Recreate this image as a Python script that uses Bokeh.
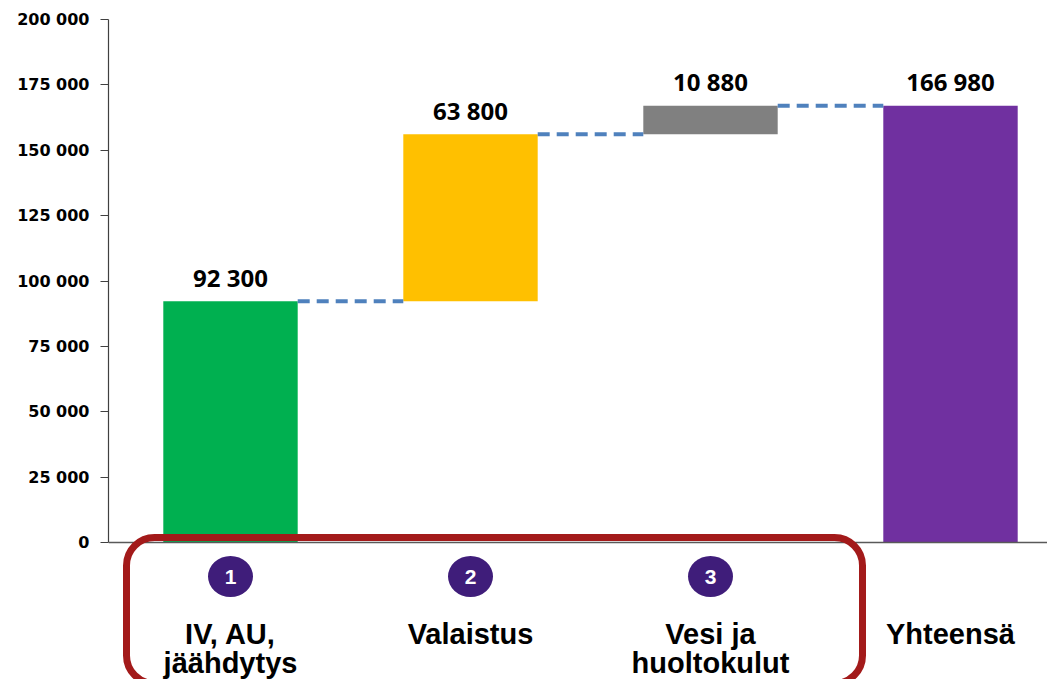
from bokeh.plotting import figure
from bokeh.models import Range1d, FixedTicker, BoxAnnotation, Span, ColumnDataSource
from bokeh.core.properties import value
from bokeh.embed import file_html
from bokeh.resources import INLINE

# ---- data ----
categories = ["IV, AU,\njäähdytys", "Valaistus", "Vesi ja\nhuoltokulut", "Yhteensä"]
step_values = [92300, 63800, 10880]
total_value = 166980
bar_colors = ["#00B050", "#FFC000", "#808080", "#7030A0"]
step_numbers = ["1", "2", "3"]
y_ticks = [0, 25000, 50000, 75000, 100000, 125000, 150000, 175000, 200000]
y_tick_labels = ["0", "25 000", "50 000", "75 000", "100 000", "125 000",
                 "150 000", "175 000", "200 000"]

# ---- layout helpers ----
W, H = 1047, 679
LEFT, TOP = 108, 19
FRAME_W = W - LEFT
FRAME_H = H - TOP
Y_MAX = 200000
ZERO_PX = 523            # pixels from top of frame to y = 0
PX_PER_X = 240.0
PX_PER_Y = ZERO_PX / Y_MAX
FIRST_CENTER_PX = 122    # pixels from frame left to first category centre


def dx(px):
    return px / PX_PER_X


def dy(px):
    return px / PX_PER_Y


x0 = -dx(FIRST_CENTER_PX)
x1 = x0 + dx(FRAME_W)
y0 = Y_MAX - dy(FRAME_H)

# ---- waterfall geometry from data ----
bottoms, tops = [], []
running = 0
for v in step_values:
    bottoms.append(running)
    running += v
    tops.append(running)
bottoms.append(0)
tops.append(total_value)
all_values = step_values + [total_value]
xs = list(range(len(categories)))
BAR_W = 0.56

src = ColumnDataSource(dict(
    x=xs, bottom=bottoms, top=tops, color=bar_colors,
    label=[f"{v:,}".replace(",", " ") for v in all_values],
))

p = figure(width=W, height=H, x_range=Range1d(x0, x1), y_range=Range1d(y0, Y_MAX),
           output_backend="svg", toolbar_location=None, x_axis_location=None,
           min_border=0, min_border_left=LEFT, min_border_top=TOP,
           min_border_right=0, min_border_bottom=0)
p.outline_line_color = None
p.grid.visible = False
p.background_fill_color = "white"
p.border_fill_color = "white"

p.vbar(x="x", bottom="bottom", top="top", width=BAR_W, color="color", line_color=None,
       source=src)

# connectors
cx0 = [i + BAR_W / 2 for i in xs[:-1]]
cx1 = [i + 1 - BAR_W / 2 for i in xs[:-1]]
cy = tops[:-1]
p.segment(x0=cx0, y0=cy, x1=cx1, y1=cy, line_color="#4F81BD", line_width=4,
          line_dash="12 7")

# value labels
p.text(x="x", y="top", text="label", source=src, text_align="center",
       text_baseline="alphabetic", y_offset=-24, text_font=value("Open Sans"),
       text_font_style="bold", text_font_size="24px", text_color="#000000")

# x axis line at zero
p.add_layout(Span(location=0, dimension="width", line_color="#595959", line_width=1.5))

# y axis
ax = p.yaxis[0]
ax.bounds = (0, Y_MAX)
ax.ticker = FixedTicker(ticks=y_ticks)
ax.major_label_overrides = {t: l for t, l in zip(y_ticks, y_tick_labels)}
ax.axis_line_color = "#404040"
ax.axis_line_width = 1.2
ax.major_tick_line_color = "#404040"
ax.major_tick_out = 8
ax.major_tick_in = 0
ax.minor_tick_line_color = None
ax.major_label_standoff = 11
ax.major_label_text_font = "DejaVu Sans"
ax.major_label_text_font_style = "bold"
ax.major_label_text_font_size = "16px"
ax.major_label_text_color = "#000000"

# numbered circles
num_x = xs[:len(step_numbers)]
num_y = [-dy(34)] * len(step_numbers)
p.ellipse(x=num_x, y=num_y, width=45, height=41, width_units="screen",
          height_units="screen", fill_color="#3F1D7A", line_color=None)
p.text(x=num_x, y=num_y, text=step_numbers, text_align="center", text_baseline="middle",
       text_color="white", text_font=value("Liberation Sans"), text_font_style="bold",
       text_font_size="21px")

# category labels (one glyph per line)
lx, ly, lt = [], [], []
for i, c in enumerate(categories):
    for j, line in enumerate(c.split("\n")):
        lx.append(i)
        ly.append(-dy(91 + 29 * j))
        lt.append(line)
p.text(x=lx, y=ly, text=lt, text_align="center", text_baseline="alphabetic",
       text_color="#000000", text_font=value("Liberation Sans"), text_font_style="bold",
       text_font_size="29px")

# red rounded highlight box around the three steps
p.add_layout(BoxAnnotation(left=xs[0] - dx(104), right=xs[2] + dx(152),
                           top=dy(5), bottom=-dy(141),
                           fill_alpha=0, line_color="#A31A1A", line_alpha=1.0,
                           line_width=7, border_radius=28))

open("out.html", "w").write(file_html(p, INLINE))
